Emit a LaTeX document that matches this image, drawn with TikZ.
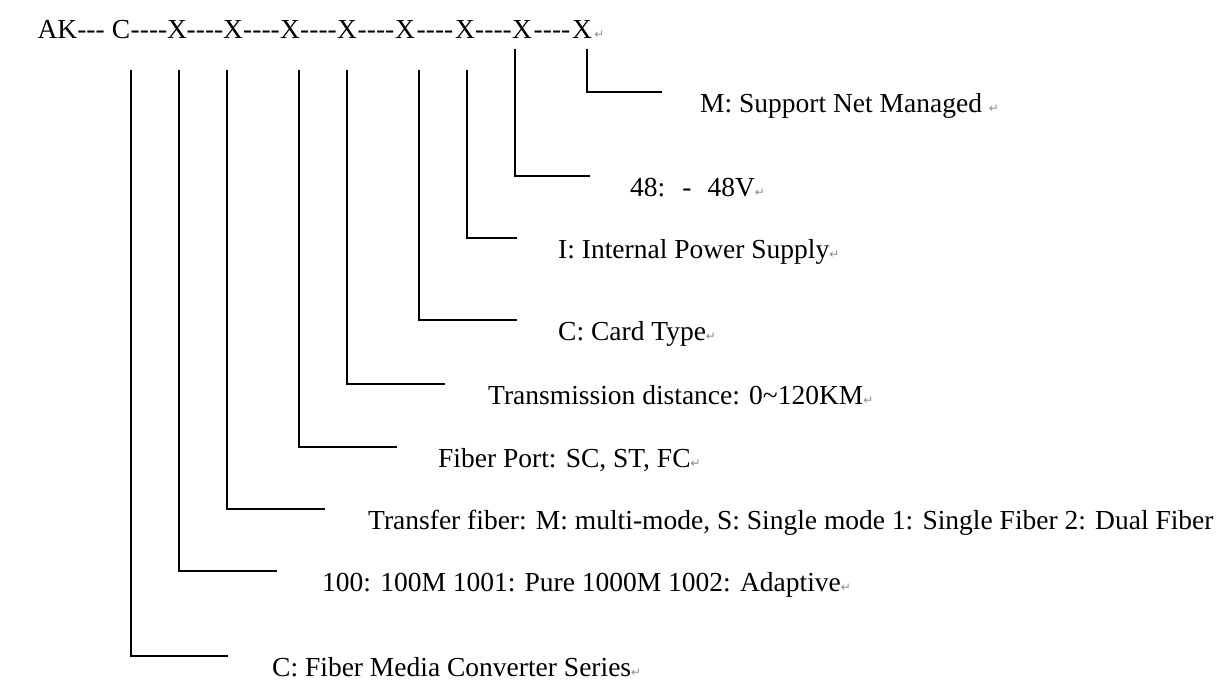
\documentclass[tikz,border=0pt]{standalone}
\usepackage{fontspec}
\setmainfont{Liberation Serif}
\newfontfamily\retfont{DejaVu Sans}
\newcommand\pmark{{\retfont\fontsize{12}{12}\selectfont\textcolor{black!45}{↵}}}
\newcommand\dashfour{-{}-{}-{}-}
\begin{document}
\begin{tikzpicture}[x=1pt,y=-1pt,
  txt/.style={inner sep=0pt, font=\fontsize{27.5}{33}\selectfont},
  lab/.style={txt, anchor=base west},
  conn/.style={line width=1.6pt, black}]
\useasboundingbox (0,0) rectangle (1221,697);
\fill[white] (0,0) rectangle (1221,697);
% top code line
\node[txt, anchor=base east] (ak) at (105,38) {AK-{}-{}-};
\node[txt, anchor=base] (c0) at (121,38) {C};
\foreach \n/\x in {1/177,2/233,3/290,4/347,5/405,6/465,7/522,8/582}
  \node[txt, anchor=base] (x\n) at (\x,38) {X};
\foreach \n/\x in {1/149,2/205,3/261.5,4/318.5,5/376,6/435,7/493.5,8/552}
  \node[txt, anchor=base] (d\n) at (\x,38) {\dashfour};
\node[inner sep=0pt, anchor=base west] (pm0) at ([xshift=2pt]x8.base east) {\pmark};
% connector end points
\coordinate (t1) at (587,49);  \coordinate (e1) at (662,92);
\coordinate (t2) at (515,49);  \coordinate (e2) at (590,176);
\coordinate (t3) at (467,70);  \coordinate (e3) at (517,238);
\coordinate (t4) at (419,70);  \coordinate (e4) at (517,320);
\coordinate (t5) at (347,70);  \coordinate (e5) at (445,384);
\coordinate (t6) at (299,70);  \coordinate (e6) at (397,447);
\coordinate (t7) at (227,70);  \coordinate (e7) at (325,509);
\coordinate (t8) at (179,70);  \coordinate (e8) at (277,571);
\coordinate (t9) at (131,70);  \coordinate (e9) at (228,656);
\foreach \n in {1,...,9} \draw[conn] (t\n) |- (e\n);
% labels
\node[lab] (l1) at (700,112) {M: Support Net Managed \pmark};
\node[lab] (l2) at (630,196) {48:\hspace{17pt}-\hspace{16pt}48V\pmark};
\node[lab] (l3) at (558,258) {I: Internal Power Supply\pmark};
\node[lab] (l4) at (558,340) {C: Card Type\pmark};
\node[lab] (l5) at (488,404) {Transmission distance: 0\textasciitilde120KM\pmark};
\node[lab] (l6) at (438,467) {Fiber Port: SC, ST, FC\pmark};
\node[lab] (l7) at (368,529) {Transfer fiber: M: multi-mode, S: Single mode 1: Single Fiber 2: Dual Fiber};
\node[lab] (l8) at (322,591) {100: 100M 1001: Pure 1000M 1002: Adaptive\pmark};
\node[lab] (l9) at (272,676) {C: Fiber Media Converter Series\pmark};
\end{tikzpicture}
\end{document}
